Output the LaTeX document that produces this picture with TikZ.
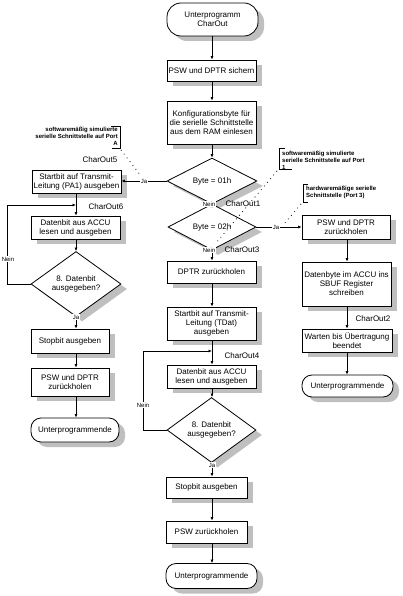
\documentclass[tikz,border=0pt]{standalone}
\usepackage{fontspec}
\setmainfont{Liberation Sans}
\usetikzlibrary{shapes.geometric,shadows,arrows.meta}
\begin{document}
\begin{tikzpicture}[x=1pt,y=-1pt,
  font=\fontsize{8}{9}\selectfont,
  shad/.style={drop shadow={shadow xshift=6pt,shadow yshift=-5pt,fill=black!25,opacity=1}},
  box/.style={draw,line width=0.8pt,fill=white,shad,align=center,inner sep=1pt},
  term/.style={box,rounded corners=10pt},
  dec/.style={diamond,draw,line width=0.8pt,fill=white,shad,align=center,inner sep=0pt},
  arr/.style={draw,line width=0.8pt,-{Latex[length=3.5pt,width=3pt]}},
  lbl/.style={font=\fontsize{6}{7}\selectfont,fill=white,inner sep=0.6pt},
  tag/.style={font=\fontsize{8}{9}\selectfont,inner sep=0pt},
  note/.style={font=\fontsize{6}{7}\selectfont\bfseries,inner sep=0pt},
  dots/.style={line width=0.8pt,dash pattern=on 0.8pt off 4pt},
  brk/.style={line width=0.8pt}
]
\useasboundingbox (0,0) rectangle (403,596);

% main column
\node[term,minimum width=91pt,minimum height=33pt,rounded corners=14pt] (start) at (212.5,19.5) {Unterprogramm\\CharOut};
\node[box,minimum width=89pt,minimum height=21pt] (psw1) at (211.5,70.5) {PSW und DPTR sichern};
\node[box,minimum width=89pt,minimum height=43pt] (konf) at (211.5,122.5) {Konfigurationsbyte für\\die serielle Schnittstelle\\aus dem RAM einlesen};
\node[dec,minimum width=90pt,minimum height=22pt] (d1) at (212,181) {Byte = 01h};
\node[dec,minimum width=88pt,minimum height=22pt] (d2) at (212,227) {Byte = 02h};
\node[box,minimum width=89pt,minimum height=22pt] (dptr) at (211.5,272) {DPTR zurückholen};
\node[box,minimum width=89pt,minimum height=33pt] (stt) at (211.5,323.5) {Startbit auf Transmit-\\Leitung (TDat)\\ausgeben};
\node[box,minimum width=89pt,minimum height=23pt] (dat) at (211.5,376.5) {Datenbit aus ACCU\\lesen und ausgeben};
\node[dec,minimum width=89pt,minimum height=44pt] (d8) at (211.5,430) {8. Datenbit\\ausgegeben?};
\node[box,minimum width=81pt,minimum height=21pt] (stop) at (206.5,487.5) {Stopbit ausgeben};
\node[box,minimum width=81pt,minimum height=22pt] (psw2) at (206.5,532) {PSW zurückholen};
\node[term,minimum width=91pt,minimum height=25pt] (end1) at (211.5,576) {Unterprogrammende};

% left column
\node[box,minimum width=89pt,minimum height=23pt] (lst) at (76.5,181.5) {Startbit auf Transmit-\\Leitung (PA1) ausgeben};
\node[box,minimum width=89pt,minimum height=23pt] (ldat) at (75.5,227.5) {Datenbit aus ACCU\\lesen und ausgeben};
\node[dec,minimum width=90pt,minimum height=46pt] (ld) at (76,284) {8. Datenbit\\ausgegeben?};
\node[box,minimum width=78pt,minimum height=24pt] (lstop) at (70,341) {Stopbit ausgeben};
\node[box,minimum width=78pt,minimum height=28pt] (lpsw) at (70,382) {PSW und DPTR\\zurückholen};
\node[term,minimum width=88pt,minimum height=24pt] (lend) at (75,430) {Unterprogrammende};

% right column
\node[box,minimum width=88pt,minimum height=24pt] (rpsw) at (346,227) {PSW und DPTR\\zurückholen};
\node[box,minimum width=89pt,minimum height=44pt] (rdat) at (346.5,284) {Datenbyte im ACCU ins\\SBUF Register\\schreiben};
\node[box,minimum width=90pt,minimum height=23pt] (rwait) at (347,340.5) {Warten bis Übertragung\\beendet};
\node[term,minimum width=91pt,minimum height=22pt] (rend) at (347.5,386) {Unterprogrammende};

% guide coordinates
\coordinate (mx) at (212,0);
\coordinate (lx) at (76,0);
\coordinate (rx) at (347,0);
\coordinate (j1) at (212,351);
\coordinate (lp1) at (143,351);
\coordinate (j2) at (76,205);
\coordinate (lp2) at (7,205);

% connectors
\foreach \a/\b in {start/psw1,psw1/konf,konf/d1,d1/d2,d2/dptr,dptr/stt,stt/dat,dat/d8,d8/stop,stop/psw2,psw2/end1}
  \draw[arr] (\a.south -| mx) -- (\b.north -| mx);
\foreach \a/\b in {lst/ldat,ldat/ld,ld/lstop,lstop/lpsw,lpsw/lend}
  \draw[arr] (\a.south -| lx) -- (\b.north -| lx);
\foreach \a/\b in {rpsw/rdat,rdat/rwait,rwait/rend}
  \draw[arr] (\a.south -| rx) -- (\b.north -| rx);
\draw[arr] (d1.west) -- (lst.east |- d1.west);
\draw[arr] (d2.east) -- (rpsw.west |- d2.east);
\draw[arr] (d8.west) -| (lp1) -- (j1);
\draw[arr] (ld.west) -| (lp2) -- (j2);

% branch labels
\node[lbl] (n1) at (209,204) {Nein};
\node[lbl] (n2) at (209,250) {Nein};
\node[lbl] (n3) at (143,405) {Nein};
\node[lbl] (n4) at (8,259) {Nein};
\node[lbl] (y1) at (144,181) {Ja};
\node[lbl] (y2) at (276,227) {Ja};
\node[lbl] (y3) at (212,465) {Ja};
\node[lbl] (y4) at (76,317) {Ja};

% CharOut tags
\node[tag] (c1) at (243,204) {CharOut1};
\node[tag] (c3) at (242,250) {CharOut3};
\node[tag] (c4) at (242,356) {CharOut4};
\node[tag] (c5) at (100,160) {CharOut5};
\node[tag] (c6) at (106,207) {CharOut6};
\node[tag] (c2) at (373,319) {CharOut2};

% annotations
\node[note,anchor=north east,align=right] (a1) at (118,126.5) {softwaremäßig simulierte\\serielle Schnittstelle auf Port\\A};
\draw[brk] (111,126) -- (120,126) -- (120,148) -- (112,148);
\coordinate (a1s) at (121,150);
\coordinate (a1e) at (141,176);
\draw[dots] (a1s) -- (a1e);

\node[note,anchor=north west,align=left] (a2) at (282,151) {softwaremäßig simulierte\\serielle Schnittstelle auf Port\\1};
\draw[brk] (285,148) -- (279,148) -- (279,169) -- (292,169);
\coordinate (a2s) at (277,171);
\coordinate (a2e) at (216,243);
\draw[dots] (a2s) -- (a2e);

\node[note,anchor=north west,align=left] (a3) at (306,186) {hardwaremäßige serielle\\Schnittstelle (Port 3)};
\draw[brk] (308,184) -- (303,184) -- (303,202) -- (308,202);
\coordinate (a3s) at (301,204);
\coordinate (a3e) at (284,224);
\draw[dots] (a3s) -- (a3e);
\end{tikzpicture}
\end{document}
